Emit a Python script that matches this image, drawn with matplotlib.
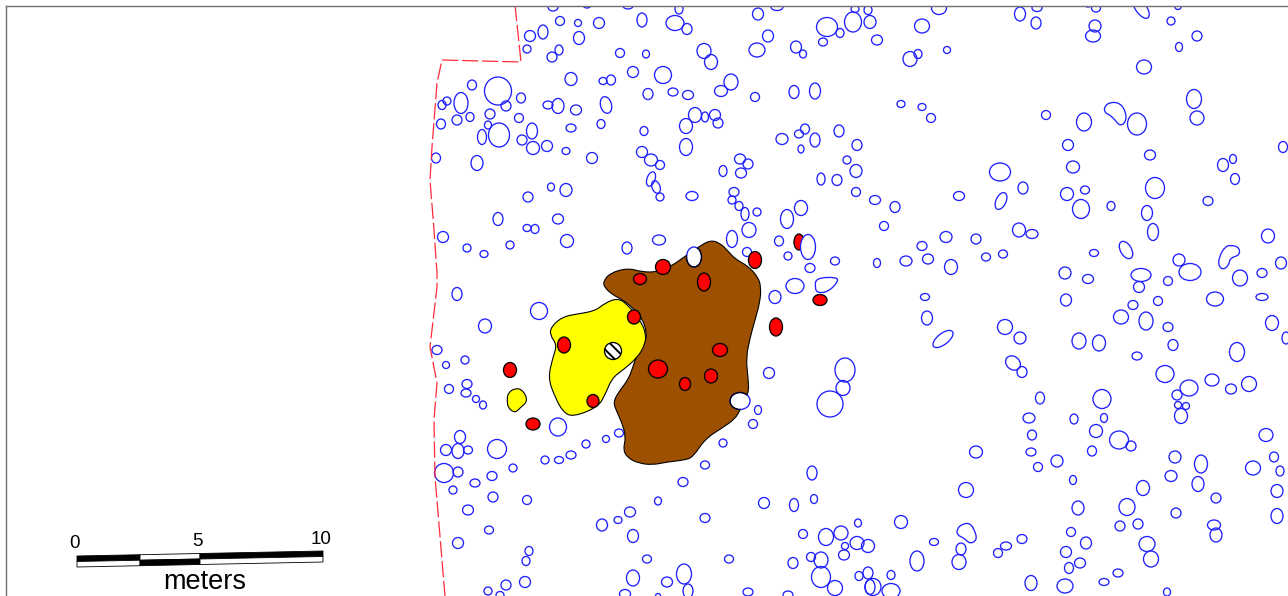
import numpy as np
import matplotlib
matplotlib.use("Agg")
import matplotlib.pyplot as plt
from matplotlib.patches import Ellipse, Polygon, PathPatch
from matplotlib.path import Path

plt.rcParams['font.family'] = ['Liberation Sans', 'DejaVu Sans']
plt.rcParams['hatch.linewidth'] = 1.4

# map features: x, y, width, height
pits_nw = [
    (553,7,10,8),(587,5,8,6),(628,5,11,8),(560,21,9,9),(578,23,7,7),(599,23,11,11),(642,20,10,14),
    (543,32,10,14),(530,36,11,11),(527,49,8,8),(579,38,11,13),(559,50,8,10),(552,57,10,10),(571,79,12,13),
    (603,81,8,7),(611,80,9,10),(472,85,9,10),(498,91,27,28),(461,103,14,21),(447,101,8,8),(442,105,8,9),
    (521,98,9,10),(506,106,10,10),(490,114,10,10),(470,117,8,9),(457,120,10,10),(441,124,9,10),(519,118,9,9),
    (548,105,10,8),(558,106,12,15),(576,110,11,10),(571,128,10,8),(601,124,8,9),(488,125,7,8),(482,137,9,15),
    (499,135,21,24),(532,131,11,16),(522,140,10,10),(533,148,13,13),(547,146,11,11),(566,151,8,7),(592,158,11,11),
    (436,158,9,10),(477,163,12,15),(528,197,10,10),(551,187,7,8),(566,190,12,13),(498,219,10,13),(558,219,11,10),
    (527,228,8,7),(535,229,8,9),(443,237,11,11),
]
pits_n = [
    (675,23,18,15),(679,9,8,10),(687,29,10,11),(758,14,11,12),(777,7,12,7),(827,27,21,19),(853,22,17,20),
    (855,9,8,7),(840,33,8,9),(823,42,9,8),(768,36,11,12),(757,50,16,14),(796,47,11,12),(803,54,7,8),(704,51,14,15),
    (711,62,13,15),(646,54,7,8),(620,53,9,9),(633,72,11,11),(663,75,17,17),(648,94,10,11),(673,92,10,8),(688,95,11,9),
    (731,82,14,16),(721,91,13,11),(755,97,9,9),(794,92,10,13),(815,91,11,16),(644,131,8,9),(686,126,13,15),
    (695,115,13,15),(705,117,7,10),(715,115,11,11),(718,123,10,10),(686,147,13,17),(642,152,11,11),(651,160,13,12),
    (660,165,9,9),(660,197,8,8),(692,196,12,9),(723,171,8,11),(740,159,11,10),(748,164,10,10),(741,173,11,10),
    (734,192,10,9),(732,200,8,8),(739,206,8,9),(745,214,8,13),(757,212,8,8),(782,139,12,11),(799,134,9,8),
    (805,129,9,10),(815,140,10,14),(801,149,6,8),(839,131,10,12),(857,145,10,11),(847,160,8,8),(856,171,12,13),
    (821,179,8,12),(837,180,10,11),(856,192,9,9),(801,208,13,15),(787,219,13,19),(749,230,14,15),
]
pits_w = [
    (467,248,8,8),(484,254,8,7),(510,245,8,8),(567,241,13,13),(627,248,10,12),(659,240,13,10),(732,239,11,17),
    (747,252,9,9),(779,241,9,10),(788,256,8,8),(835,261,9,8),(810,268,10,9),(795,286,18,15),(775,297,12,13),
    (457,294,10,13),(539,311,17,17),(485,326,13,14),(437,350,10,9),(446,365,7,7),(465,360,8,8),(449,389,9,9),
    (467,384,10,9),(466,393,10,8),(476,399,7,7),(483,405,7,8),(769,373,11,11),(758,410,7,9),(753,424,9,9),
    (558,427,17,18),(497,449,19,19),(460,437,11,13),(446,450,11,11),(458,451,12,15),(468,450,9,8),(444,473,19,19),
    (458,472,10,10),(492,476,10,9),(513,468,8,8),(545,460,8,8),(559,460,9,7),(571,455,10,8),(586,444,8,8),
    (606,439,7,7),(619,433,9,8),(723,443,8,8),(705,465,9,8),(812,473,10,14),(830,404,26,26),(845,370,20,24),(843,388,14,15),
]
pits_s = [
    (453,490,8,8),(475,483,10,8),(493,497,10,10),(527,500,9,9),(468,510,11,10),(489,530,9,8),(458,543,11,11),
    (529,551,8,9),(526,561,8,9),(488,591,8,8),(506,585,10,10),(525,582,11,11),(500,595,8,7),(683,482,10,9),
    (658,501,7,8),(705,518,10,9),(630,512,11,10),(618,520,8,7),(602,525,11,12),(633,536,11,13),(647,559,9,8),
    (729,559,9,8),(633,578,13,16),(667,582,11,10),(684,574,15,20),(688,591,10,14),(625,594,11,9),(658,596,5,5),
    (748,592,10,8),(788,595,10,8),(764,503,11,11),(794,505,9,13),(814,499,7,9),(803,534,9,9),(826,537,15,17),
    (841,533,14,14),(858,523,7,8),(857,543,14,13),(845,546,7,7),(844,555,11,10),(868,546,13,13),(811,557,9,9),
    (821,560,14,16),(793,563,10,11),(821,577,19,21),(835,588,15,15),(859,576,8,9),(868,573,10,12),(870,587,10,15),
]
pits_se = [
    (873,587,16,17),(891,575,8,9),(891,591,18,15),(901,522,13,13),(934,542,9,7),(917,561,14,20),(961,549,10,12),
    (959,562,14,15),(998,553,9,9),(1006,546,11,8),(1022,539,10,9),(1031,583,12,15),(1065,586,16,14),(1104,582,10,7),
    (1118,573,10,8),(1167,592,7,8),(1069,568,9,11),(1080,563,11,10),(1066,552,11,11),(1086,543,11,12),(1071,532,9,9),
    (1078,508,12,14),(1120,526,10,10),(1138,524,10,10),(1127,507,16,17),(1147,544,16,15),(1151,559,15,16),(1176,513,10,10),
    (1214,525,13,10),(1216,535,12,14),(1216,498,10,10),(1277,516,12,15),(1277,491,12,13),(1280,471,8,10),(1274,457,9,10),
    (1253,468,15,14),(1266,435,14,13),(1201,464,13,18),(1198,484,12,15),(1171,476,12,11),(1175,457,12,12),(1143,488,13,15),
    (1131,446,10,10),(1119,440,19,18),(1096,431,13,13),(1092,451,9,10),(1104,418,7,9),(1074,419,8,10),(1102,399,18,19),
    (1057,461,12,12),(1038,467,9,9),(1031,452,10,8),(1032,435,9,10),(1029,418,12,10),(1040,398,9,12),(1022,372,10,11),
    (976,452,13,12),(966,490,15,15),(1073,480,7,9),(1005,327,15,15),(1020,338,12,12),(927,318,11,14),(925,297,9,7),
    (1066,300,11,12),(1121,317,15,14),(1133,305,10,9),(1158,301,9,9),(1146,321,14,18),(1168,327,10,9),(1173,345,10,11),
    (1137,356,10,8),(1079,341,14,16),(1099,343,13,16),(1165,374,18,17),(1189,388,18,16),(1177,395,10,10),(1178,405,7,7),
    (1186,406,7,7),(1181,416,13,15),(1212,380,14,12),(1231,389,11,10),(1249,384,15,15),(1237,352,15,19),(1272,323,13,15),
    (1286,338,8,12),(1215,299,17,14),(1262,297,12,7),
]
pits_ne = [
    (868,10,8,9),(870,22,12,13),(877,40,11,10),(939,8,15,13),(922,26,15,14),(910,59,14,15),(918,54,8,9),(947,50,7,7),
    (1020,14,11,14),(1036,23,10,12),(1037,8,10,7),(1088,5,7,4),(1096,8,9,8),(1095,26,12,12),(1093,36,15,12),(1178,7,6,5),
    (1171,21,8,8),(1197,36,10,10),(1179,47,7,9),(1144,67,15,14),(1194,99,15,19),(1197,118,14,14),(901,104,8,7),(922,107,8,7),
    (931,118,9,9),(1046,115,9,9),(1084,122,15,18),(1137,124,19,22),(1068,145,11,11),(1150,155,11,10),(1073,167,13,12),
    (1283,147,9,11),(1233,159,7,9),(1223,165,11,13),(1235,179,9,11),(1000,172,21,18),(1023,188,10,12),(959,196,11,9),
    (875,200,11,9),(895,207,10,11),(884,226,9,9),(1067,194,13,13),(1085,190,9,8),(1081,209,17,19),(1111,206,8,9),
    (1155,188,19,21),(1147,213,11,15),(1153,232,11,17),(1208,201,10,9),(1268,236,13,14),(1094,253,9,7),(1019,230,13,14),
    (1032,234,12,9),(946,237,12,11),(976,239,10,10),(922,246,10,9),(906,261,12,10),(928,259,11,10),(877,263,7,9),
    (951,267,13,15),(986,257,9,8),(1003,254,9,8),(1179,260,12,12),(1190,272,22,17),(1240,278,15,16),(1262,273,10,9),
    (1281,263,11,12),(1168,281,9,9),(1141,275,20,13),(1139,287,11,11),(1088,279,11,9),(1065,273,12,12),
]
# the elongated ones: x, y, length, breadth, angle
pits_tilted = [
    (943,339,24,11,-38),(1001,201,18,10,-65),(1126,250,19,11,60),(606,105,17,11,75),(651,179,15,8,-70),
    (656,187,13,8,70),(1141,8,24,11,55),(1013,363,16,13,40),
]
pit_heart_a = [(1104,107),(1110,102),(1120,103),(1126,112),(1126,122),(1120,126),(1115,120),(1110,115),(1105,113)]
pit_heart_b = [(1230,245),(1239,247),(1240,255),(1230,258),(1229,265),(1223,270),(1218,265),(1220,255),(1225,247)]
pit_heart_c = [(957,529),(962,524),(970,523),(975,531),(977,540),(970,544),(964,538),(957,535)]
pit_white_poly = [(816,278),(837,277),(838,282),(828,292),(817,293),(815,287)]
pit_white = [(808,247,15,25)]

brown_x = [710,720,728,735,748,758,761,760,755,750,746,748,749,740,735,722,705,693,685,667,652,638,628,623,626,622,617,613,620,628,633,636,645,647,642,633,623,613,605,603,610,628,642,657,670,687,697]
brown_y = [240,243,251,259,266,277,287,302,320,338,358,377,393,410,419,428,439,457,460,462,465,463,458,450,437,423,412,402,390,380,367,357,343,333,318,308,300,295,288,282,273,268,272,272,267,255,248]
yellow_x = [618,628,640,646,645,637,623,612,605,598,573,563,555,548,553,557,550,551,562,577,595,605]
yellow_y = [298,305,320,333,345,358,370,378,395,407,417,412,397,378,357,345,335,327,317,314,311,303]
yellow_small_x = [508,515,523,528,520,515,508,507]
yellow_small_y = [393,388,390,401,408,413,408,400]

red_spots = [
    (663,267,15,15),(640,279,13,11),(704,282,13,18),(755,260,13,17),(820,300,14,11),(776,327,13,18),(634,317,13,14),
    (564,345,13,16),(720,350,15,13),(658,369,19,18),(685,384,11,13),(711,376,13,14),(593,401,12,13),(510,370,13,15),(533,424,14,12),
]
red_behind = [(799,242,10,16)]
white_spots = [(694,257,15,20),(740,401,20,17)]
hatched_spot = (613,351,17,17)

boundary_x = [515,521,442,437,432,430,434,437,437,430,437,434,435,445]
boundary_y = [5,62,60,83,147,180,230,273,287,347,383,420,477,596]

scale_labels = ['0','5','10']

BLUE = '#2020ff'
EDGE = 0.95

fig = plt.figure(figsize=(12.88,5.96), dpi=100)
ax = fig.add_axes([5.5/1288, 0, 1-5.5/1288, 1-5.5/596])
ax.set_xlim(5.5,1288)
ax.set_ylim(596,5.5)
ax.set_xticks([])
ax.set_yticks([])
for s in ['right','bottom']:
    ax.spines[s].set_visible(False)
for s in ['left','top']:
    ax.spines[s].set_color('#707070')
    ax.spines[s].set_linewidth(1.0)

def blob(x, y, w, h, fc='none', ec=BLUE, lw=EDGE, angle=0, **kw):
    p = Ellipse((x,y), w, h, angle=angle, facecolor=fc, edgecolor=ec, linewidth=lw, **kw)
    ax.add_patch(p)
    return p

def outline(pts, fc='none', ec=BLUE, lw=EDGE):
    # rounded outline through the edge midpoints, the read points act as control points
    pts = np.asarray(pts, dtype=float)
    mids = (pts + np.roll(pts, -1, axis=0)) / 2
    verts = [mids[-1]]
    codes = [Path.MOVETO]
    for p, m in zip(pts, mids):
        verts += [p, m]
        codes += [Path.CURVE3, Path.CURVE3]
    patch = PathPatch(Path(verts, codes), facecolor=fc, edgecolor=ec, linewidth=lw)
    ax.add_patch(patch)
    return patch

# blue pits
for group in [pits_nw, pits_n, pits_w, pits_s, pits_se, pits_ne]:
    for x, y, w, h in group:
        blob(x, y, w, h)
for x, y, w, h, a in pits_tilted:
    blob(x, y, w, h, angle=a)
for pts in [pit_heart_a, pit_heart_b, pit_heart_c]:
    outline(pts)
outline(pit_white_poly, fc='white')

# red dashed limit of the excavation
ax.plot(boundary_x, boundary_y, color='#ff2a3a', linewidth=0.9, dashes=(13,3))

# floors
brown = outline(np.column_stack([brown_x,brown_y]), fc='#9c5000', ec='black', lw=0.8)
outline(np.column_stack([yellow_x,yellow_y]), fc='#ffff00', ec='black', lw=0.8)
outline(np.column_stack([yellow_small_x,yellow_small_y]), fc='#ffff00', ec='black', lw=0.8)

# hearths etc
for x, y, w, h in red_behind:
    blob(x, y, w, h, fc='#ff0000', ec='black')
for x, y, w, h in pit_white:
    blob(x, y, w, h, fc='white', ec=BLUE)
for x, y, w, h in red_spots:
    blob(x, y, w, h, fc='#ff0000', ec='black')
for x, y, w, h in white_spots:
    blob(x, y, w, h, fc='white', ec=BLUE)
    # black only where the spot cuts into the brown floor
    blob(x, y, w, h, ec='black').set_clip_path(brown)
blob(*hatched_spot, fc='white', ec='black', hatch='\\\\\\')

# scale bar
def seg(x0, x1, top):
    # bar runs slightly uphill
    f0, f1 = (x0-77)/246.0, (x1-77)/246.0
    t0, t1 = 556-5*f0, 556-5*f1
    m0, m1 = t0+5.5, t1+5.5
    b0, b1 = t0+11, t1+11
    ax.add_patch(Polygon([(x0,t0),(x1,t1),(x1,m1),(x0,m0)], closed=True, facecolor='black' if top else 'white', edgecolor='black', linewidth=0.6))
    ax.add_patch(Polygon([(x0,m0),(x1,m1),(x1,b1),(x0,b0)], closed=True, facecolor='white' if top else 'black', edgecolor='black', linewidth=0.6))
seg(77,140,True)
seg(140,200,False)
seg(200,323,True)

for lab, tx, ty in zip(scale_labels, [75,197,321], [543,541,540]):
    ax.text(tx, ty, lab, fontsize=13.5, ha='center', va='center', color='black')
ax.text(205, 582, 'meters', fontsize=19.5, ha='center', va='center', color='black')

fig.savefig('out.png', dpi=100, facecolor='white')
